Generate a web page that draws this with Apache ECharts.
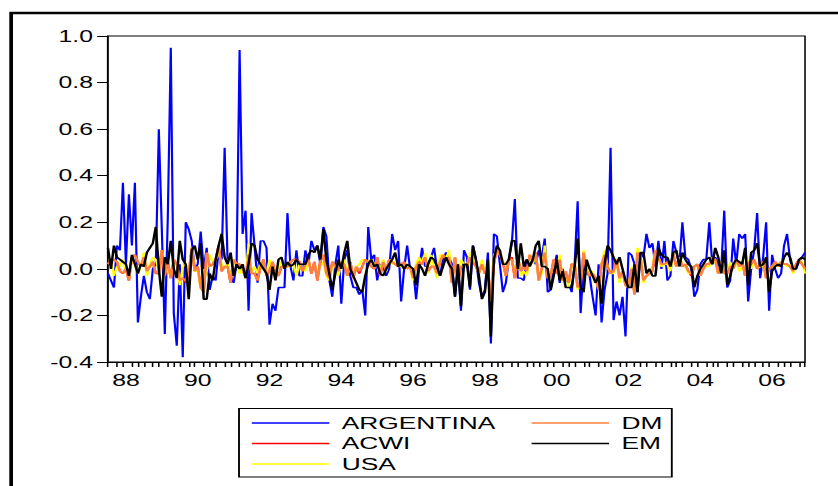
<!DOCTYPE html>
<html>
<head>
<meta charset="utf-8">
<script src="https://cdn.jsdelivr.net/npm/echarts@6/dist/echarts.min.js"></script>
<style>
    html, body { margin: 0; padding: 0; background: #fff; overflow: hidden; }
    /* the reference picture is stretched sideways, so the chart is drawn narrow and widened */
    #chart { width: 541px; height: 486px; transform: scaleX(1.549); transform-origin: 0 0; }
</style>
</head>
<body>
<div id="chart"></div>
<script>
    // monthly returns, 1988M01 .. 2007M06
    var startYear = 1988;
    var nMonths = 234;
    var yearTicks = ['88', '90', '92', '94', '96', '98', '00', '02', '04', '06'];
    var yTicks = [-0.4, -0.2, 0.0, 0.2, 0.4, 0.6, 0.8, 1.0];

    var argentina = [
        -0.02, -0.05, -0.08, 0.10, 0.08, 0.37, 0.02, 0.32, 0.10, 0.37, -0.23, -0.12,
        -0.03, -0.10, -0.13, 0.00, 0.02, 0.60, 0.17, -0.28, 0.22, 0.95, -0.19, -0.33,
        0.02, -0.38, 0.20, 0.17, 0.12, 0.00, 0.02, 0.16, 0.00, 0.09, -0.09, -0.03,
        -0.05, 0.08, 0.04, 0.52, 0.02, -0.03, -0.06, 0.02, 0.94, 0.15, 0.25, -0.18,
        0.24, 0.10, -0.06, 0.12, 0.12, 0.09, -0.24, -0.15, -0.18, -0.08, -0.08, -0.08,
        0.24, 0.01, -0.05, 0.08, -0.03, -0.03, 0.08, 0.02, 0.12, 0.08, 0.10, 0.02,
        0.18, 0.14, -0.05, -0.12, 0.02, 0.10, -0.15, 0.04, 0.08, -0.03, -0.08, -0.08,
        -0.11, -0.09, -0.20, 0.18, 0.04, 0.06, -0.05, 0.02, 0.01, -0.03, 0.00, 0.15,
        0.08, 0.12, -0.14, 0.00, 0.10, 0.00, 0.00, -0.13, 0.00, 0.09, 0.01, 0.02,
        0.05, 0.09, 0.00, -0.03, 0.04, 0.07, 0.05, 0.02, -0.12, 0.02, -0.18, 0.08,
        0.05, -0.09, 0.10, 0.04, -0.06, -0.12, -0.09, 0.07, -0.32, 0.15, 0.14, 0.02,
        -0.10, -0.06, 0.04, 0.11, 0.30, -0.04, -0.04, -0.05, 0.04, 0.02, 0.04, 0.02,
        0.08, 0.05, 0.13, -0.10, -0.09, 0.00, 0.06, -0.06, 0.00, -0.05, -0.06, -0.10,
        0.02, 0.29, -0.19, 0.02, -0.02, -0.03, -0.12, -0.20, 0.02, -0.23, -0.09, -0.02,
        0.52, -0.22, -0.14, -0.20, -0.12, -0.29, 0.07, 0.06, 0.02, -0.10, 0.07, 0.05,
        0.15, 0.09, 0.11, 0.01, 0.12, 0.00, 0.12, -0.05, -0.03, 0.12, 0.07, 0.02,
        0.20, 0.05, 0.04, 0.00, -0.12, -0.09, 0.02, 0.04, 0.04, 0.20, 0.02, 0.05,
        0.02, 0.00, 0.25, -0.08, -0.05, 0.13, 0.02, 0.15, 0.13, 0.15, -0.14, 0.00,
        0.08, 0.24, -0.04, 0.05, 0.20, -0.18, 0.06, 0.00, -0.04, -0.02, 0.10, 0.15,
        0.04, -0.01, 0.00, 0.03, 0.05, 0.07
    ];

    var em = [
        0.09, 0.00, 0.10, 0.05, 0.04, 0.03, 0.02, -0.03, 0.06, 0.02, -0.02, 0.02,
        0.01, 0.07, 0.09, 0.11, 0.18, 0.00, -0.12, 0.05, 0.02, 0.12, 0.00, -0.04,
        0.12, 0.04, 0.02, -0.13, 0.08, 0.10, 0.04, 0.11, -0.13, -0.13, -0.02, -0.05,
        0.04, 0.10, 0.15, 0.05, 0.02, 0.07, -0.03, 0.02, 0.00, 0.02, -0.04, 0.02,
        0.11, 0.10, 0.04, 0.02, 0.00, -0.02, -0.09, 0.01, -0.05, 0.04, 0.05, 0.00,
        0.03, 0.01, 0.02, 0.04, 0.02, 0.02, 0.02, 0.06, 0.08, 0.07, 0.10, 0.04,
        0.17, 0.04, -0.02, -0.09, -0.02, 0.04, 0.00, 0.07, 0.12, 0.00, -0.03, -0.06,
        -0.09, -0.10, -0.03, 0.02, 0.04, 0.01, 0.02, -0.02, -0.03, 0.00, 0.02, 0.04,
        0.07, 0.01, 0.02, 0.00, 0.02, 0.01, 0.00, -0.07, 0.02, 0.00, -0.03, 0.02,
        0.05, 0.04, 0.01, -0.03, 0.01, 0.05, 0.02, 0.00, -0.12, 0.02, -0.16, 0.02,
        0.02, -0.08, 0.10, 0.04, -0.03, -0.13, -0.10, 0.04, -0.29, 0.04, 0.10, 0.08,
        0.02, 0.02, 0.04, 0.12, 0.12, 0.00, 0.11, 0.01, 0.04, 0.01, 0.04, 0.10,
        0.12, 0.01, 0.01, 0.00, -0.09, -0.03, 0.04, -0.05, -0.01, -0.08, -0.08, -0.08,
        0.01, 0.13, -0.08, -0.10, 0.04, 0.00, -0.03, -0.06, -0.03, -0.15, 0.02, 0.10,
        0.08, 0.05, 0.02, 0.05, 0.00, -0.05, -0.08, -0.08, 0.02, -0.10, 0.07, 0.07,
        -0.02, 0.00, -0.03, -0.03, 0.09, 0.06, 0.05, 0.05, 0.01, 0.07, 0.08, 0.01,
        0.07, 0.04, 0.02, 0.01, -0.08, -0.03, 0.00, 0.02, 0.04, 0.05, 0.02, 0.09,
        0.05, -0.02, 0.08, -0.07, -0.03, 0.02, 0.04, 0.03, 0.02, 0.09, -0.07, 0.07,
        0.08, 0.11, 0.01, 0.02, 0.05, -0.10, -0.01, 0.01, 0.02, 0.01, 0.05, 0.07,
        0.05, 0.00, 0.00, 0.04, 0.05, 0.04
    ];

    var dm = [
        0.02, 0.04, 0.04, 0.03, -0.01, -0.02, 0.00, -0.05, 0.05, 0.06, 0.03, 0.01,
        0.05, -0.01, 0.01, 0.03, -0.02, -0.01, 0.08, -0.03, 0.03, -0.04, 0.04, 0.02,
        -0.05, -0.04, -0.05, -0.02, 0.09, -0.01, 0.01, -0.08, -0.10, 0.07, 0.01, 0.02,
        0.04, 0.10, -0.01, 0.01, 0.01, -0.06, 0.04, 0.02, 0.02, 0.00, -0.04, 0.06,
        -0.02, -0.02, -0.05, 0.01, 0.04, -0.03, -0.01, 0.03, -0.02, -0.03, 0.01, 0.01,
        0.01, 0.03, 0.04, 0.04, 0.03, -0.01, 0.02, 0.04, -0.02, 0.03, -0.05, 0.03,
        0.06, -0.02, -0.04, 0.03, 0.01, -0.01, 0.03, 0.02, -0.03, 0.03, -0.04, 0.01,
        -0.01, 0.01, 0.04, 0.03, 0.01, 0.00, 0.05, -0.03, 0.03, -0.01, 0.04, 0.03,
        0.02, 0.01, 0.02, 0.03, 0.00, 0.01, -0.04, 0.01, 0.03, 0.02, 0.05, -0.01,
        0.01, 0.01, -0.02, 0.03, 0.06, 0.04, 0.05, -0.06, 0.05, -0.05, 0.01, 0.01,
        0.02, 0.05, 0.03, 0.01, -0.01, 0.02, -0.02, 0.00, -0.13, 0.02, 0.09, 0.06,
        0.03, -0.03, 0.04, 0.04, -0.04, 0.05, -0.01, 0.01, -0.01, 0.06, 0.03, 0.07,
        -0.05, 0.00, 0.07, -0.04, -0.03, 0.04, -0.02, 0.04, -0.05, -0.01, -0.06, 0.02,
        0.02, -0.08, -0.06, 0.07, -0.01, -0.03, -0.02, -0.04, -0.09, 0.02, 0.06, 0.01,
        -0.02, -0.01, 0.04, -0.04, -0.01, -0.07, -0.08, 0.00, -0.11, 0.07, 0.05, -0.05,
        -0.03, -0.02, -0.01, 0.08, 0.05, 0.02, 0.02, 0.03, 0.01, 0.06, 0.01, 0.05,
        0.01, 0.02, -0.01, -0.02, 0.01, 0.02, -0.03, 0.00, 0.02, 0.02, 0.05, 0.04,
        -0.02, 0.03, -0.02, -0.02, 0.01, 0.00, 0.04, 0.01, 0.03, -0.03, 0.03, 0.02,
        0.04, 0.00, 0.02, 0.03, -0.04, 0.00, 0.01, 0.03, 0.01, 0.03, 0.02, 0.02,
        0.01, -0.01, 0.02, 0.04, 0.02, 0.00
    ];

    var acwi = [
        0.02, 0.04, 0.04, 0.03, -0.01, -0.02, 0.00, -0.05, 0.05, 0.06, 0.03, 0.01,
        0.05, -0.01, 0.01, 0.03, -0.02, -0.02, 0.08, -0.03, 0.03, -0.04, 0.04, 0.02,
        -0.04, -0.04, -0.06, -0.03, 0.09, -0.01, 0.01, -0.08, -0.10, 0.07, 0.01, 0.02,
        0.04, 0.10, -0.01, 0.01, 0.01, -0.06, 0.04, 0.02, 0.02, 0.00, -0.04, 0.06,
        -0.02, -0.02, -0.05, 0.01, 0.04, -0.03, -0.01, 0.03, -0.02, -0.03, 0.01, 0.01,
        0.01, 0.03, 0.04, 0.04, 0.03, -0.01, 0.02, 0.04, -0.02, 0.03, -0.05, 0.04,
        0.06, -0.02, -0.05, 0.03, 0.01, -0.01, 0.03, 0.02, -0.03, 0.03, -0.04, 0.01,
        -0.02, 0.01, 0.04, 0.03, 0.01, 0.00, 0.05, -0.03, 0.03, -0.01, 0.04, 0.03,
        0.02, 0.01, 0.02, 0.03, 0.00, 0.01, -0.04, 0.01, 0.03, 0.02, 0.05, -0.01,
        0.01, 0.01, -0.02, 0.03, 0.06, 0.04, 0.05, -0.06, 0.05, -0.06, 0.01, 0.01,
        0.01, 0.05, 0.03, 0.01, -0.02, 0.02, -0.02, 0.00, -0.14, 0.02, 0.09, 0.06,
        0.03, -0.03, 0.04, 0.05, -0.04, 0.05, -0.01, 0.01, -0.01, 0.06, 0.03, 0.07,
        -0.05, 0.00, 0.07, -0.04, -0.03, 0.04, -0.02, 0.04, -0.05, -0.02, -0.06, 0.02,
        0.02, -0.08, -0.06, 0.07, -0.01, -0.03, -0.02, -0.04, -0.09, 0.02, 0.06, 0.01,
        -0.02, -0.01, 0.04, -0.04, -0.01, -0.07, -0.08, 0.00, -0.11, 0.07, 0.05, -0.05,
        -0.03, -0.02, -0.01, 0.08, 0.05, 0.02, 0.02, 0.03, 0.01, 0.06, 0.01, 0.05,
        0.01, 0.02, -0.01, -0.03, 0.01, 0.02, -0.03, 0.00, 0.02, 0.02, 0.05, 0.04,
        -0.02, 0.03, -0.02, -0.02, 0.01, 0.00, 0.04, 0.01, 0.03, -0.03, 0.03, 0.02,
        0.04, 0.00, 0.02, 0.03, -0.04, 0.00, 0.01, 0.03, 0.01, 0.03, 0.02, 0.02,
        0.01, -0.01, 0.02, 0.04, 0.02, 0.00
    ];

    var usa = [
        0.04, 0.04, -0.03, 0.01, 0.01, 0.04, -0.01, -0.04, 0.04, 0.02, -0.02, 0.01,
        0.07, -0.03, 0.02, 0.05, 0.04, -0.01, 0.08, 0.02, -0.01, -0.03, 0.02, 0.02,
        -0.07, 0.01, 0.02, -0.03, 0.09, -0.01, -0.01, -0.09, -0.05, -0.01, 0.06, 0.03,
        0.04, 0.07, 0.02, 0.00, 0.04, -0.05, 0.04, 0.02, -0.02, 0.01, -0.04, 0.11,
        -0.02, 0.01, -0.02, 0.03, 0.00, -0.02, 0.04, -0.02, 0.01, 0.00, 0.03, 0.01,
        0.01, 0.01, 0.02, -0.03, 0.02, 0.00, -0.01, 0.03, -0.01, 0.02, -0.01, 0.01,
        0.03, -0.03, -0.05, 0.01, 0.01, -0.03, 0.03, 0.04, -0.03, 0.02, -0.04, 0.01,
        0.02, 0.04, 0.03, 0.03, 0.04, 0.02, 0.03, 0.00, 0.04, -0.01, 0.04, 0.02,
        0.03, 0.01, 0.01, 0.01, 0.02, 0.00, -0.05, 0.02, 0.05, 0.02, 0.07, -0.02,
        0.06, 0.01, -0.04, 0.06, 0.06, 0.04, 0.08, -0.06, 0.05, -0.03, 0.04, 0.02,
        0.01, 0.07, 0.05, 0.01, -0.02, 0.04, -0.01, 0.00, -0.14, 0.06, 0.08, 0.06,
        0.04, -0.03, 0.04, 0.04, -0.02, 0.05, -0.03, -0.01, -0.03, 0.06, 0.02, 0.06,
        -0.05, -0.02, 0.10, -0.03, -0.02, 0.02, -0.02, 0.06, -0.05, -0.01, -0.08, 0.01,
        0.03, -0.09, -0.06, 0.08, 0.01, -0.02, -0.01, -0.06, -0.08, 0.02, 0.08, 0.01,
        -0.02, -0.02, 0.04, -0.06, -0.01, -0.07, -0.08, 0.01, -0.11, 0.09, 0.06, -0.06,
        -0.03, -0.02, 0.01, 0.08, 0.05, 0.01, 0.02, 0.02, -0.01, 0.06, 0.01, 0.05,
        0.02, 0.01, -0.02, -0.02, 0.01, 0.02, -0.03, 0.00, 0.01, 0.01, 0.04, 0.03,
        -0.02, 0.02, -0.02, -0.02, 0.03, 0.00, 0.04, -0.01, 0.01, -0.02, 0.04, 0.00,
        0.03, 0.00, 0.01, 0.01, -0.03, 0.00, 0.01, 0.02, 0.02, 0.03, 0.02, 0.01,
        0.02, -0.02, 0.01, 0.04, 0.03, -0.02
    ];

    // month labels like 1988M01
    var months = [];
    for (var i = 0; i < nMonths; i++) {
        var y = startYear + Math.floor(i / 12);
        var m = (i % 12) + 1;
        months.push(y + 'M' + (m < 10 ? '0' + m : m));
    }

    var font = "'Liberation Sans', Arial, sans-serif";
    var legendText = { fontSize: 17, lineHeight: 17, color: '#000', fontFamily: font, padding: [0, 0, 0, 3] };

    var myChart = echarts.init(document.getElementById('chart'), null, { renderer: 'svg' });
    myChart.setOption({
        animation: false,
        backgroundColor: '#fff',
        grid: {
            left: 69.7, right: 21.3, top: 36, bottom: 124,
            show: true, borderColor: '#000', borderWidth: 1, backgroundColor: '#fff'
        },
        // outer frame and legend box
        graphic: [
            {
                type: 'rect', silent: true,
                shape: { x: 7.2, y: 13, width: 600, height: 500 },
                style: { fill: 'none', stroke: '#000', lineWidth: 2.4 }
            },
            {
                type: 'rect', silent: true,
                shape: { x: 154.3, y: 408.5, width: 279.4, height: 68.5 },
                style: { fill: 'none', stroke: '#000', lineWidth: 1.2 }
            }
        ],
        legend: [
            {
                data: ['ARGENTINA', 'ACWI', 'USA'],
                orient: 'vertical', left: 162.6, top: 414.5, padding: 0,
                itemWidth: 50, itemHeight: 1.6, itemGap: 3.5, icon: 'rect',
                selectedMode: false,
                textStyle: legendText
            },
            {
                data: ['DM', 'EM'],
                orient: 'vertical', left: 343.2, top: 414.5, padding: 0,
                itemWidth: 50, itemHeight: 1.6, itemGap: 3.5, icon: 'rect',
                selectedMode: false,
                textStyle: legendText
            }
        ],
        xAxis: {
            type: 'category',
            data: months,
            boundaryGap: false,
            axisLine: { onZero: false, lineStyle: { color: '#000', width: 1 } },
            // five small ticks a year
            axisTick: {
                show: true, length: 5,
                lineStyle: { color: '#000', width: 1 },
                interval: function (index) {
                    return index === 0 || Math.floor(index * 5 / 12) !== Math.floor((index - 1) * 5 / 12);
                }
            },
            axisLabel: {
                margin: 10,
                fontSize: 16,
                color: '#000',
                fontFamily: font,
                interval: function (index, value) {
                    return value.slice(4) === 'M07' && yearTicks.indexOf(value.slice(2, 4)) >= 0;
                },
                formatter: function (value) { return value.slice(2, 4); }
            },
            splitLine: { show: false }
        },
        yAxis: {
            type: 'value',
            min: yTicks[0], max: yTicks[yTicks.length - 1], interval: 0.2,
            axisLine: { show: true, onZero: false, lineStyle: { color: '#000', width: 1 } },
            axisTick: { show: true, length: 7, lineStyle: { color: '#000', width: 1 } },
            axisLabel: {
                margin: 9.7, fontSize: 16, color: '#000', fontFamily: font,
                formatter: function (v) { return v.toFixed(1); }
            },
            splitLine: { show: false }
        },
        series: [
            { name: 'ARGENTINA', type: 'line', data: argentina, showSymbol: false, color: '#0000ff', lineStyle: { width: 1.4 } },
            { name: 'ACWI', type: 'line', data: acwi, showSymbol: false, color: '#ff0000', lineStyle: { width: 1.5 } },
            { name: 'USA', type: 'line', data: usa, showSymbol: false, color: '#ffff00', lineStyle: { width: 1.5 } },
            { name: 'DM', type: 'line', data: dm, showSymbol: false, color: '#ff7f3f', lineStyle: { width: 1.7 } },
            { name: 'EM', type: 'line', data: em, showSymbol: false, color: '#000000', lineStyle: { width: 1.6 } }
        ]
    });
</script>
</body>
</html>
